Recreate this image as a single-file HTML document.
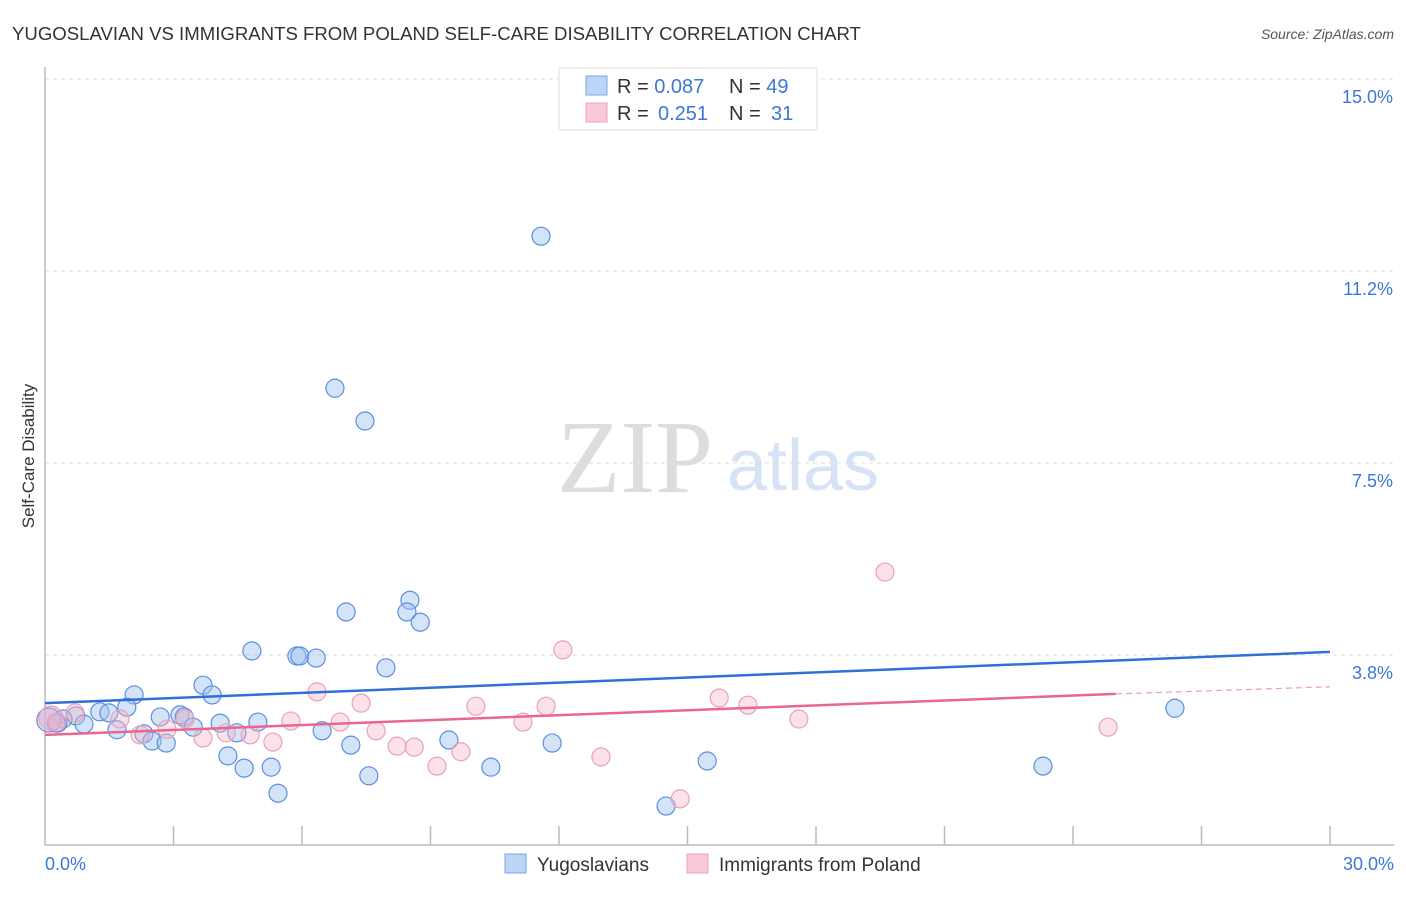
<!DOCTYPE html>
<html><head><meta charset="utf-8"><style>
body{margin:0;background:#fff;font-family:"Liberation Sans",sans-serif}
</style></head><body>
<svg id="c" width="1406" height="892" xmlns="http://www.w3.org/2000/svg" style="font-family:'Liberation Sans',sans-serif">
<text x="12" y="40" font-size="18.6" fill="#333">YUGOSLAVIAN VS IMMIGRANTS FROM POLAND SELF-CARE DISABILITY CORRELATION CHART</text>
<text x="1394" y="39" font-size="14" fill="#555" font-style="italic" text-anchor="end">Source: ZipAtlas.com</text>
<g><text x="635" y="492" font-size="104" fill="#ddd" font-family="'Liberation Serif',serif" text-anchor="middle">ZIP</text><text x="803" y="490" font-size="72" fill="#d5e3f5" text-anchor="middle">atlas</text></g>
<g id="grid"></g><g id="axes"></g><g id="pts"></g><g id="trend"></g>
<text transform="translate(34,456) rotate(-90)" font-size="17" fill="#333" text-anchor="middle">Self-Care Disability</text>
<text x="45" y="870" font-size="18" fill="#3b78d8">0.0%</text>
<text x="1394" y="870" font-size="18" fill="#3b78d8" text-anchor="end">30.0%</text>
<g>
<rect x="559" y="68" width="258" height="62" fill="#fff" stroke="#ddd"/>
<rect x="586" y="76" width="21" height="19" fill="#bcd4f5" stroke="#7aa6e6"/>
<rect x="586" y="103" width="21" height="19" fill="#f9c9d7" stroke="#eea3ba"/>
<text x="617" y="93" font-size="20" fill="#333">R = <tspan fill="#3b78d8">0.087</tspan><tspan x="729">N = </tspan><tspan fill="#3b78d8">49</tspan></text>
<text x="617" y="120" font-size="20" fill="#333">R = <tspan fill="#3b78d8" x="658">0.251</tspan><tspan x="729">N = </tspan><tspan fill="#3b78d8" x="771">31</tspan></text>
</g>
<g>
<rect x="505" y="854" width="21" height="19" fill="#bcd4f5" stroke="#7aa6e6"/>
<text x="537" y="871" font-size="19" fill="#333">Yugoslavians</text>
<rect x="687" y="854" width="21" height="19" fill="#f9c9d7" stroke="#eea3ba"/>
<text x="719" y="871" font-size="19" fill="#333">Immigrants from Poland</text>
</g>
</svg>
<script>
const yTicks=[3.75,7.5,11.25,15];
const yTickLabels=["3.8%","7.5%","11.2%","15.0%"];
const xTicks=[3,6,9,12,15,18,21,24,27,30];
const blueX=[11.58,6.77,7.47,8.52,7.03,8.45,8.76,4.83,5.88,5.95,6.33,7.96,2.08,3.69,3.90,1.91,1.28,1.49,0.72,0.42,0.30,0.26,0.91,1.68,2.69,3.15,3.25,3.46,4.09,4.97,4.48,2.31,2.50,2.83,6.47,7.14,9.43,11.84,4.27,4.65,5.28,7.56,10.41,5.44,15.46,14.50,23.30,26.38,0.09];
const blueY=[11.93,8.96,8.32,4.82,4.59,4.59,4.39,3.83,3.73,3.73,3.69,3.50,2.97,3.16,2.97,2.73,2.64,2.62,2.56,2.50,2.42,2.42,2.40,2.29,2.54,2.58,2.54,2.34,2.42,2.44,2.23,2.21,2.07,2.03,2.27,1.99,2.09,2.03,1.78,1.54,1.56,1.39,1.56,1.05,1.68,0.80,1.58,2.71,2.48];
const pinkX=[0.14,0.70,1.75,2.22,2.85,3.27,3.69,4.23,4.79,5.32,5.74,6.35,6.89,7.38,7.73,8.22,8.62,9.15,9.71,10.06,11.16,11.70,12.09,12.98,14.83,15.74,16.41,17.60,19.61,24.82,0.28];
const pinkY=[2.52,2.62,2.50,2.19,2.30,2.50,2.13,2.23,2.19,2.05,2.46,3.03,2.44,2.81,2.27,1.97,1.95,1.58,1.86,2.75,2.44,2.75,3.85,1.76,0.94,2.91,2.77,2.50,5.37,2.34,2.44];
const blueTrend=[2.81,3.81];
const pinkTrend=[2.19,2.99,3.13];
const pinkTrendEnd=25;
const NS="http://www.w3.org/2000/svg";
const px=v=>45+v*42.833, py=v=>847-v*51.2;
function mk(tag,attrs,parent){const e=document.createElementNS(NS,tag);for(const k in attrs)e.setAttribute(k,attrs[k]);document.getElementById(parent).appendChild(e);return e;}
yTicks.forEach((t,i)=>{
 const l=mk('line',{x1:45,x2:1394,y1:py(t),y2:py(t),stroke:'#ddd','stroke-dasharray':'4 4'},'grid');
 
 
 const tx=mk('text',{x:1393,y:py(t)+24,'font-size':18,fill:'#3b78d8','text-anchor':'end'},'grid');
 tx.textContent=yTickLabels[i];
 
 
});
const ax=mk('path',{d:'M45 67V845H1394',fill:'none',stroke:'#bbb','stroke-width':1.5},'axes');


xTicks.forEach(t=>{
 const l=mk('line',{x1:px(t),x2:px(t),y1:826,y2:845,stroke:'#bbb','stroke-width':1.5},'axes');
 
 
});
function dots(xs,ys,fill,stroke,name,bigFill){xs.forEach((x,i)=>{
 const big=x<0.2;
 const c=mk('circle',{cx:px(x),cy:py(ys[i]),r:(big?12:9),fill:big?bigFill:fill,stroke:stroke,'stroke-width':1.2},'pts');
 
 
});}
dots(blueX,blueY,'rgba(160,195,240,0.45)','#5a8ee0','yugoslavian-point','rgba(200,180,225,0.5)');
dots(pinkX,pinkY,'rgba(246,180,200,0.4)','#eba0b8','poland-point','rgba(220,180,215,0.5)');
const bl=mk('line',{x1:px(0),y1:py(blueTrend[0]),x2:px(30),y2:py(blueTrend[1]),stroke:'#2f6fd6','stroke-width':2.5},'trend');


const pl=mk('line',{x1:px(0),y1:py(pinkTrend[0]),x2:px(pinkTrendEnd),y2:py(pinkTrend[1]),stroke:'#e8668f','stroke-width':2.5},'trend');


const pd=mk('line',{x1:px(pinkTrendEnd),y1:py(pinkTrend[1]),x2:px(30),y2:py(pinkTrend[2]),stroke:'#e8a0b5','stroke-width':1.2,'stroke-dasharray':'6 4'},'trend');


</script>
</body></html>
